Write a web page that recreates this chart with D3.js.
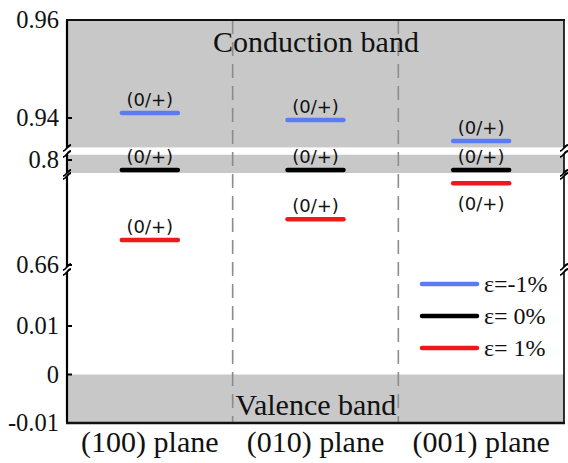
<!DOCTYPE html>
<html>
<head>
<meta charset="utf-8">
<script src="https://cdn.jsdelivr.net/npm/d3@7/dist/d3.min.js"></script>
<style>
  html, body { margin: 0; padding: 0; background: #fff; }
  svg { display: block; }
  .serif { font-family: "Liberation Serif", "Times New Roman", Times, "DejaVu Serif", serif; }
  .sans { font-family: "DejaVu Sans", "Noto Sans", sans-serif; }
</style>
</head>
<body>
<svg id="chart" width="568" height="463"></svg>
<script>
// Crystal planes along the x axis
const planes = ["(100) plane", "(010) plane", "(001) plane"];
// Strain cases shown in the legend
const strains = ["ε=-1%", "ε= 0%", "ε= 1%"];
const strainColors = ["#5b7bf3", "#000000", "#f01818"];
// (0/+) transition level (eV) for each plane, per strain
const levelsMinus1 = [0.941, 0.9396, 0.9353];
const levelsZero = [0.7867, 0.7867, 0.7867];
const levelsPlus1 = [0.6933, 0.7210, 0.7690];
const levelLabel = "(0/+)";
// label sits above the bar unless flagged below
const labelBelowPlus1 = [false, false, true];
// Tick values in each piece of the broken axis
const ticksTop = [0.94, 0.96];
const ticksMid = [0.8];
const ticksLow = [0.66];
const ticksBottom = [-0.01, 0, 0.01];
const tickLabels = {"0.96": "0.96", "0.94": "0.94", "0.8": "0.8", "0.66": "0.66",
                    "0.01": "0.01", "0": "0", "-0.01": "-0.01"};
// Band regions
const conductionTop = [0.934, 0.96];
const conductionMid = [0.7813, 0.807];
const valenceBottom = [-0.01, 0];

const svg = d3.select("#chart");
const left = 67, right = 564;

// broken y axis: each piece has its own pixel extent and scale
const midScale = d3.scaleLinear().domain([0.66, 0.8]).range([265, 160]);
const segments = [
  {y0: 20, y1: 148, scale: d3.scaleLinear().domain([0.94, 0.96]).range([118, 20]), ticks: ticksTop},
  {y0: 154, y1: 173, scale: midScale, ticks: ticksMid},
  {y0: 176, y1: 267, scale: midScale, ticks: ticksLow},
  {y0: 272, y1: 423, scale: d3.scaleLinear().domain([-0.01, 0.01]).range([423, 326]), ticks: ticksBottom}
];
const segTop = segments[0], segMid = segments[1], segLow = segments[2], segBot = segments[3];

const x = d3.scaleBand().domain(planes).range([left, right]).padding(0);
const cx = p => x(p) + x.bandwidth() / 2;

function clampY(seg, v) {
  return Math.max(seg.y0, Math.min(seg.y1, seg.scale(v)));
}

// band fills
const gray = "#c8c8c8";
function bandRect(seg, dom) {
  const ya = clampY(seg, dom[1]), yb = clampY(seg, dom[0]);
  svg.append("rect").attr("x", left).attr("width", right - left)
    .attr("y", ya).attr("height", yb - ya).attr("fill", gray);
}
bandRect(segTop, conductionTop);
bandRect(segMid, conductionMid);
bandRect(segBot, valenceBottom);

// dashed separators between planes
planes.slice(1).forEach(p => {
  svg.append("line").attr("x1", x(p)).attr("x2", x(p))
    .attr("y1", 20).attr("y2", 423)
    .attr("stroke", "#8c8c8c").attr("stroke-width", 1.6)
    .attr("stroke-dasharray", "14,8");
});

// band names
svg.append("text").attr("class", "serif").attr("x", 316).attr("y", 52).attr("text-anchor", "middle")
  .attr("font-size", 30).attr("fill", "#111")
  .text("Conduction band");
svg.append("text").attr("class", "serif").attr("x", 316).attr("y", 415).attr("text-anchor", "middle")
  .attr("font-size", 30).attr("fill", "#111")
  .text("Valence band");

// level bars and their labels
const series = [
  {vals: levelsMinus1, seg: segTop, color: strainColors[0], below: [false, false, false]},
  {vals: levelsZero, seg: segMid, color: strainColors[1], below: [false, false, false]},
  {vals: levelsPlus1, seg: segLow, color: strainColors[2], below: labelBelowPlus1}
];
series.forEach(s => {
  planes.forEach((p, i) => {
    const y = s.seg.scale(s.vals[i]);
    svg.append("line").attr("x1", cx(p) - 28).attr("x2", cx(p) + 28)
      .attr("y1", y).attr("y2", y)
      .attr("stroke", s.color).attr("stroke-width", 4.5).attr("stroke-linecap", "round");
    svg.append("text").attr("class", "sans").attr("x", cx(p)).attr("y", s.below[i] ? y + 27 : y - 7)
      .attr("text-anchor", "middle")
      .attr("font-size", 18).attr("fill", "#111")
      .text(levelLabel);
  });
});

// axis lines per segment (left axis with ticks, right border)
segments.forEach(seg => {
  [left, right].forEach(xx => {
    svg.append("line").attr("x1", xx).attr("x2", xx).attr("y1", seg.y0).attr("y2", seg.y1)
      .attr("stroke", "#000").attr("stroke-width", xx === left ? 2.2 : 1.6);
  });
  seg.ticks.forEach(t => {
    const y = seg.scale(t);
    svg.append("line").attr("x1", left).attr("x2", left + 5).attr("y1", y).attr("y2", y)
      .attr("stroke", "#000").attr("stroke-width", 2);
    svg.append("text").attr("class", "serif").attr("x", 59).attr("y", y + 8).attr("text-anchor", "end")
      .attr("font-size", 24.5).attr("fill", "#111")
      .text(tickLabels[String(t)]);
  });
});

// top and bottom frame lines
svg.append("line").attr("x1", left - 1).attr("x2", right + 1).attr("y1", 20).attr("y2", 20)
  .attr("stroke", "#111").attr("stroke-width", 2.2);
svg.append("line").attr("x1", left - 1).attr("x2", right + 1).attr("y1", 423).attr("y2", 423)
  .attr("stroke", "#111").attr("stroke-width", 2.5);

// break marks on both vertical axes
function breakMark(xx, y) {
  svg.append("path")
    .attr("d", `M${xx - 4},${y + 3} C${xx - 1},${y + 3} ${xx + 1},${y - 3} ${xx + 4},${y - 3}`)
    .attr("fill", "none").attr("stroke", "#000").attr("stroke-width", 1.8);
}
for (let i = 0; i < segments.length - 1; i++) {
  [left, right].forEach(xx => {
    breakMark(xx, segments[i].y1);
    breakMark(xx, segments[i + 1].y0);
  });
}

// x axis labels
planes.forEach(p => {
  svg.append("text").attr("class", "serif").attr("x", cx(p)).attr("y", 452).attr("text-anchor", "middle")
    .attr("font-size", 30).attr("fill", "#111")
    .text(p);
});

// legend
strains.forEach((s, i) => {
  const y = 284 + i * 32;
  svg.append("line").attr("x1", 422).attr("x2", 477).attr("y1", y).attr("y2", y)
    .attr("stroke", strainColors[i]).attr("stroke-width", 4.5).attr("stroke-linecap", "round");
  svg.append("text").attr("class", "serif").attr("x", 484).attr("y", y + 8)
    .attr("font-size", 24).attr("fill", "#111")
    .text(s);
});
</script>
</body>
</html>
